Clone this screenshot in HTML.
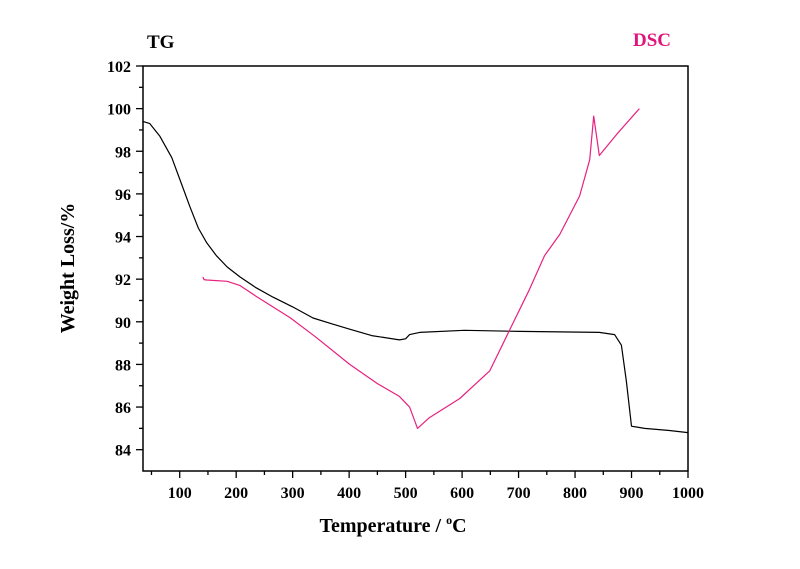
<!DOCTYPE html>
<html><head><meta charset="utf-8"><style>
body{margin:0;background:#fff;}
svg text{font-family:"Liberation Serif",serif;font-weight:bold;}
</style></head><body>
<svg id="chart" width="800" height="564" xmlns="http://www.w3.org/2000/svg">
<text x="147" y="48" font-size="19" fill="#000">TG</text>
<text x="633" y="46" font-size="19" fill="#e0157a">DSC</text>
<rect x="143" y="66" width="545" height="405" fill="none" stroke="#000" stroke-width="1.5"/>
<g id="xt"></g><g id="yt"></g>
<text x="393" y="532" font-size="20" text-anchor="middle">Temperature / <tspan dy="-8" font-size="12">o</tspan><tspan dy="8">C</tspan></text>
<text transform="translate(74,268) rotate(-90)" font-size="20" text-anchor="middle">Weight Loss/%</text>
<path id="tg" fill="none" stroke="#000" stroke-width="1.2" stroke-linejoin="round"/>
<path id="dsc" fill="none" stroke="#e8207f" stroke-width="1.2" stroke-linejoin="round"/>
</svg>
<script>
const xTicks=[100,200,300,400,500,600,700,800,900,1000];
const yTicks=[84,86,88,90,92,94,96,98,100,102];
const tgT=[35,47,65,86,100,118,133,148,165,184,207,235,265,300,336,370,401,440,489,500,507,525,604,702,843,870,882,891,900,923,967,1000];
const tgW=[99.4,99.3,98.7,97.7,96.7,95.4,94.4,93.7,93.1,92.57,92.1,91.6,91.16,90.7,90.18,89.9,89.65,89.35,89.15,89.2,89.4,89.5,89.6,89.55,89.5,89.4,88.9,87.2,85.1,85.0,84.9,84.8];
const dscT=[141,143,148,184,207,235,265,295,340,401,450,489,507,521,542,596,649,684,719,746,773,808,826,833,843,874,914];
const dscV=[92.1,91.98,91.96,91.9,91.7,91.2,90.7,90.2,89.3,88.0,87.1,86.5,86.0,85.0,85.5,86.4,87.7,89.6,91.5,93.1,94.1,95.9,97.6,99.65,97.8,98.8,100.0];
const X=v=>143+(v-35)*(545/965);
const Y=v=>471-(v-83)*(405/19);
const ns="http://www.w3.org/2000/svg";
function mk(tag,at,parent){const e=document.createElementNS(ns,tag);for(const k in at)e.setAttribute(k,at[k]);parent.appendChild(e);return e;}
const xt=document.getElementById('xt'),yt=document.getElementById('yt');
for(let v=50;v<=1000;v+=50){const l=mk('line',{x1:X(v),x2:X(v),y1:471,y2:v%100?475:478,stroke:'#000','stroke-width':1.3},xt);

}
xTicks.forEach(v=>{const t=mk('text',{x:X(v),y:498,'font-size':16,'text-anchor':'middle'},xt);t.textContent=v;

});
for(let v=84;v<=102;v+=1){const l=mk('line',{x1:v%2?139:136,x2:143,y1:Y(v),y2:Y(v),stroke:'#000','stroke-width':1.3},yt);

}
yTicks.forEach(v=>{const t=mk('text',{x:131,y:Y(v)+6,'font-size':16,'text-anchor':'end'},yt);t.textContent=v;

});
const P=(a,b)=>a.map((t,i)=>(i?'L':'M')+X(t).toFixed(1)+' '+Y(b[i]).toFixed(1)).join(' ');
document.getElementById('tg').setAttribute('d',P(tgT,tgW));
document.getElementById('dsc').setAttribute('d',P(dscT,dscV));
</script>
</body></html>
